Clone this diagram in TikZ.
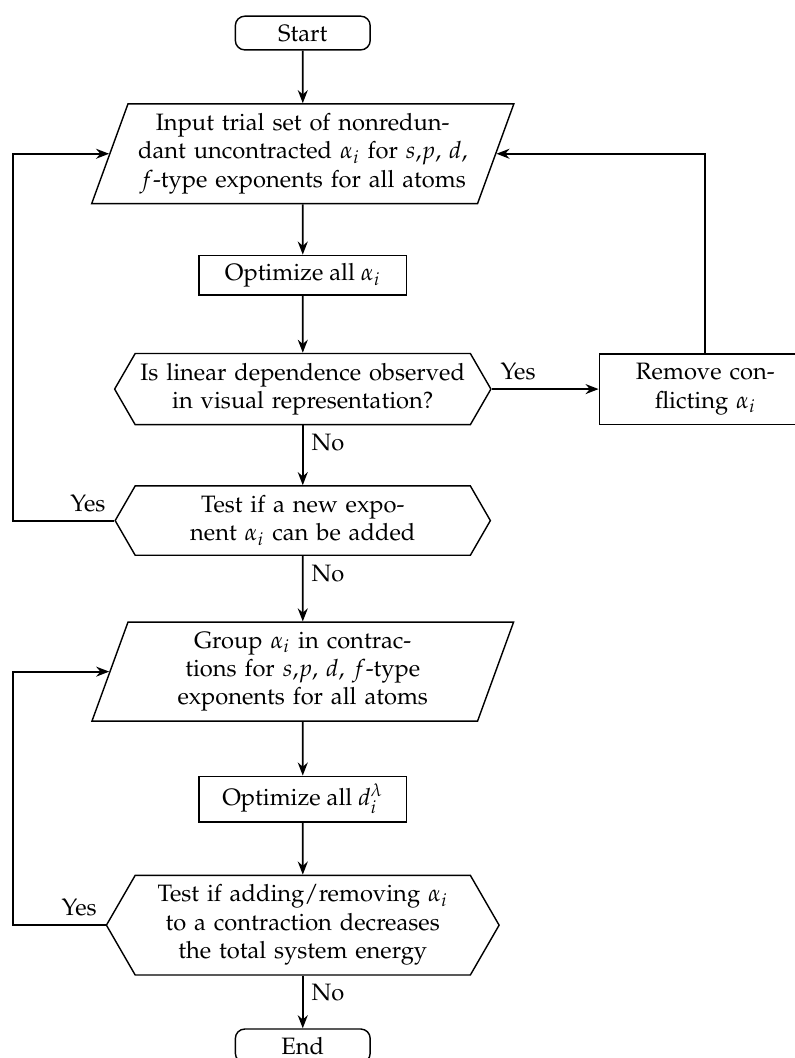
\documentclass[tikz,border=0pt]{standalone}
\usepackage[T1]{fontenc}
\usepackage{mathpazo}
\usetikzlibrary{shapes.geometric,shapes.symbols,arrows.meta}

\begin{document}
\begin{tikzpicture}[>={Stealth[length=5.5pt,width=4.2pt]},
  startstop/.style={draw,semithick,rounded corners,minimum width=2cm,minimum height=0.5cm},
  io/.style={draw,semithick,trapezium,trapezium left angle=70,trapezium right angle=110,
    text width=4.95cm,align=center,inner ysep=4pt},
  process/.style={draw,semithick,minimum width=3.08cm},
  decision/.style={draw,semithick,signal,signal to=east and west,signal pointer angle=120,
    text width=4.9cm,align=center,inner xsep=1pt,inner ysep=4pt},
  flow/.style={->,thick}]
  \useasboundingbox (0,0) rectangle (11.79,-15.69);
  \coordinate (loop) at (0.19,0);
  % main column
  \node[startstop] (start) at (4.49,-0.49) {Start};
  \node[io] (input) at (4.49,-2.28) {Input trial set of nonredun-\\dant uncontracted $\alpha_i$ for $s$,$p$, $d$,\\$f$-type exponents for all atoms};
  \node[process] (optexp) at (4.49,-4.08) {Optimize all $\alpha_i$};
  \node[decision] (lindep) at (4.49,-5.77) {Is linear dependence observed\\in visual representation?};
  \node[draw,semithick,text width=2.91cm,align=center,inner ysep=4pt] (remove) at (10.46,-5.77) {Remove con-\\flicting $\alpha_i$};
  \node[decision] (newexp) at (4.49,-7.72) {Test if a new expo-\\nent $\alpha_i$ can be added};
  \node[io] (group) at (4.49,-9.96) {Group $\alpha_i$ in contrac-\\tions for $s$,$p$, $d$, $f$-type\\exponents for all atoms};
  \node[process] (optcoef) at (4.49,-11.85) {Optimize all $d_i^\lambda$};
  \node[decision] (energy) at (4.49,-13.72) {Test if adding/removing $\alpha_i$\\to a contraction decreases\\the total system energy};
  \node[startstop] (end) at (4.49,-15.51) {End};
  % arrows
  \draw[flow] (start) -- (input);
  \draw[flow] (input) -- (optexp);
  \draw[flow] (optexp) -- (lindep);
  \draw[flow] (lindep.east) node[above right] (yesa) {Yes} -- (remove.west);
  \draw[flow] (remove.north) |- (input.east);
  \draw[flow] (lindep.south) node[below right] (noa) {No} -- (newexp.north);
  \draw[flow] (newexp.west) node[above left] (yesb) {Yes} -- (newexp.west -| loop) |- (input.west);
  \draw[flow] (newexp.south) node[below right] (nob) {No} -- (group.north);
  \draw[flow] (group) -- (optcoef);
  \draw[flow] (optcoef) -- (energy);
  \draw[flow] (energy.west) node[above left] (yesc) {Yes} -- (energy.west -| loop) |- (group.west);
  \draw[flow] (energy.south) node[below right] (noc) {No} -- (end);
\end{tikzpicture}
\end{document}
